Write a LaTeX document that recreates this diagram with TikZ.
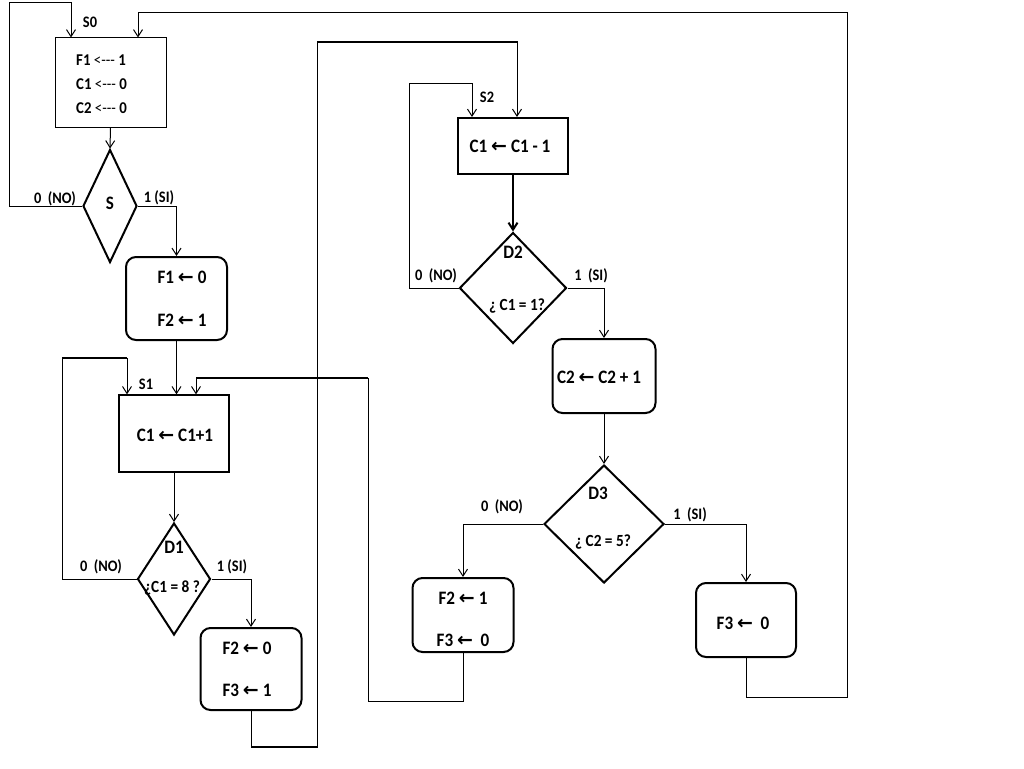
\documentclass[tikz,border=0pt]{standalone}
\usepackage{fontspec}
\setmainfont{Carlito}[FakeStretch=0.9]
\newfontfamily\symfont{DejaVu Sans}
\usetikzlibrary{arrows.meta,shapes.geometric}
\newcommand\larrow{{\symfont\bfseries ←}}
\newcommand\dashgets{<-{}-{}-}

\begin{document}
\begin{tikzpicture}[x=1pt,y=-1pt,
  flow/.style={line width=1pt,-{Straight Barb[length=7pt,width=9pt]}},
  heavy/.style={line width=2pt},
  box/.style={draw,line width=1pt,inner sep=0pt},
  rbox/.style={draw,line width=2pt,rounded corners=10pt,inner sep=0pt},
  dia/.style={draw,diamond,line width=2pt,inner sep=0pt},
  txt/.style={font=\bfseries\fontsize{19}{22}\selectfont,inner sep=0pt},
  qtxt/.style={font=\bfseries\fontsize{17}{20}\selectfont,inner sep=0pt},
  tag/.style={font=\bfseries\fontsize{16}{19}\selectfont,inner sep=0pt},
  init/.style={font=\fontsize{16.5}{19}\selectfont,inner sep=0pt,anchor=west},
]
\useasboundingbox (0,0) rectangle (1024,768);

% ---- blocks ----
\node[box,minimum width=111pt,minimum height=89pt] (s0box) at (110.5,82.5) {};
\node[dia,minimum width=54pt,minimum height=113pt] (sdia) at (110,206) {};
\node[rbox,minimum width=101pt,minimum height=83pt] (f1box) at (176.5,298.5) {};
\node[box,line width=1.3pt,minimum width=110pt,minimum height=77pt] (s1box) at (174,433.5) {};
\node[dia,minimum width=73pt,minimum height=112pt] (d1) at (174,579) {};
\node[rbox,minimum width=101pt,minimum height=82pt] (fa) at (251,669) {};
\node[box,line width=2pt,minimum width=110pt,minimum height=56pt] (s2box) at (513,146) {};
\node[dia,minimum width=107pt,minimum height=111pt] (d2) at (513,288) {};
\node[rbox,minimum width=103pt,minimum height=74pt] (c2box) at (604,376) {};
\node[dia,minimum width=120pt,minimum height=118pt] (d3) at (604,524) {};
\node[rbox,minimum width=101pt,minimum height=74pt] (fb) at (463,615) {};
\node[rbox,minimum width=100pt,minimum height=74pt] (f3b) at (746,620) {};

% ---- texts ----
\node[tag] (ls0) at (90,22) {S0};
\node[init] (i1) at (76,60) {\textbf{F1} \dashgets\ \textbf{1}};
\node[init] (i2) at (76,84) {\textbf{C1} \dashgets\ \textbf{0}};
\node[init] (i3) at (76,108) {\textbf{C2} \dashgets\ \textbf{0}};
\node[txt] (ts) at (110,203) {S};
\node[tag] (sno) at (55,199) {0\ \ (NO)};
\node[tag] (ssi) at (159,198) {1\ (SI)};
\node[txt] (tf1a) at (182,277) {F1 \larrow\ 0};
\node[txt] (tf1b) at (182,320) {F2 \larrow\ 1};
\node[tag] (ls1) at (146,384) {S1};
\node[txt] (ts1) at (175,435) {C1 \larrow\ C1+1};
\node[txt] (td1) at (174,547) {D1};
\node[qtxt] (qd1) at (172,588) {¿C1 = 8 ?};
\node[tag] (d1no) at (101,567) {0\ \ (NO)};
\node[tag] (d1si) at (232,567) {1\ (SI)};
\node[txt] (tfaa) at (247,648) {F2 \larrow\ 0};
\node[txt] (tfab) at (247,690) {F3 \larrow\ 1};
\node[tag] (ls2) at (487,97) {S2};
\node[txt] (ts2) at (510,146) {C1 \larrow\ C1 - 1};
\node[txt] (td2) at (513,252) {D2};
\node[qtxt] (qd2) at (517,306) {¿ C1 = 1?};
\node[tag] (d2no) at (436,276) {0\ \ (NO)};
\node[tag] (d2si) at (591,276) {1\ \ (SI)};
\node[txt] (tc2) at (599,377) {C2 \larrow\ C2 + 1};
\node[txt] (td3) at (598,493) {D3};
\node[qtxt] (qd3) at (603,542) {¿ C2 = 5?};
\node[tag] (d3no) at (502,507) {0\ \ (NO)};
\node[tag] (d3si) at (690,515) {1\ \ (SI)};
\node[txt] (tfba) at (463,598) {F2 \larrow\ 1};
\node[txt] (tfbb) at (463,640) {F3 \larrow\ \ 0};
\node[txt] (tf3) at (743,623) {F3 \larrow\ \ 0};

% ---- straight flow ----
\draw[flow] (s0box.south) -- (sdia.north);
\draw[flow] (sdia.east) -| (f1box.north);
\draw[flow] (f1box.south) -- (f1box.south |- s1box.north);
\draw[flow] (s1box.south) -- (d1.north);
\draw[flow] (d1.east) -| (fa.north);
\draw[flow,line width=2pt] (s2box.south) -- (d2.north);
\draw[flow] (d2.east) -| (c2box.north);
\draw[flow] (c2box.south) -- (d3.north);
\draw[flow] (d3.west) -| (fb.north);
\draw[flow] (d3.east) -| (f3b.north);

% ---- return loops ----
\coordinate (k1) at (9,3);
\coordinate (k2) at (71,3);
\draw[flow] (sdia.west) -| (k1) -- (k2) -- (k2 |- s0box.north);

\coordinate (r1) at (847,697);
\coordinate (r2) at (847,13);
\coordinate (r3) at (138,13);
\draw[flow] (f3b.south) |- (r1) -- (r2) -- (r3) -- (r3 |- s0box.north);

\coordinate (m1) at (62,358);
\coordinate (m2) at (127,358);
\draw[flow] (d1.west) -| (m1) -- (m2) -- (m2 |- s1box.north);
\draw[heavy] (m1) -- (m2);

\coordinate (p1) at (368,701);
\coordinate (p2) at (368,378);
\coordinate (p3) at (196,378);
\draw[flow] (fb.south) |- (p1) -- (p2) -- (p3) -- (p3 |- s1box.north);
\draw[heavy] (p2) -- (p3);

\coordinate (q1) at (317,747);
\coordinate (q2) at (317,42);
\coordinate (q3) at (517,42);
\draw[flow] (fa.south) |- (q1) -- (q2) -- (q3) -- (q3 |- s2box.north);
\draw[heavy] (fa.south |- q1) -- (q1);
\draw[heavy] (q2) -- (q3);

\coordinate (n1) at (409,83);
\coordinate (n2) at (472,83);
\draw[flow] (d2.west) -| (n1) -- (n2) -- (n2 |- s2box.north);
\end{tikzpicture}
\end{document}
